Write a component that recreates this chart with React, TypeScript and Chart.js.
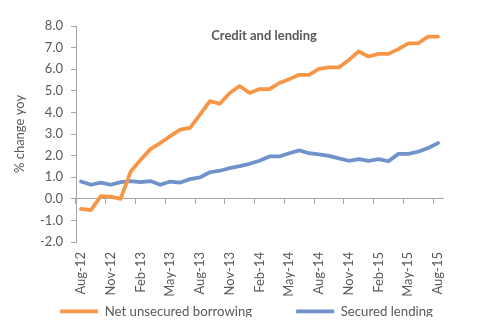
import React, { useEffect, useRef } from 'react';
import { Chart, registerables } from 'chart.js';

Chart.register(...registerables);

const months = [
  'Aug-12', 'Sep-12', 'Oct-12', 'Nov-12', 'Dec-12',
  'Jan-13', 'Feb-13', 'Mar-13', 'Apr-13', 'May-13', 'Jun-13', 'Jul-13', 'Aug-13', 'Sep-13', 'Oct-13', 'Nov-13', 'Dec-13',
  'Jan-14', 'Feb-14', 'Mar-14', 'Apr-14', 'May-14', 'Jun-14', 'Jul-14', 'Aug-14', 'Sep-14', 'Oct-14', 'Nov-14', 'Dec-14',
  'Jan-15', 'Feb-15', 'Mar-15', 'Apr-15', 'May-15', 'Jun-15', 'Jul-15', 'Aug-15',
];

const netUnsecuredBorrowing = [
  -0.47, -0.52, 0.12, 0.1, 0.0,
  1.25, 1.8, 2.3, 2.58, 2.9, 3.2, 3.28, 3.9, 4.52, 4.4, 4.9, 5.22,
  4.9, 5.08, 5.08, 5.36, 5.54, 5.74, 5.74, 6.02, 6.08, 6.08, 6.43, 6.82,
  6.59, 6.71, 6.71, 6.93, 7.2, 7.2, 7.51, 7.51,
];

const securedLending = [
  0.8, 0.65, 0.75, 0.65, 0.77,
  0.82, 0.77, 0.82, 0.65, 0.8, 0.75, 0.91, 0.99, 1.23, 1.3, 1.42, 1.51,
  1.62, 1.76, 1.96, 1.96, 2.11, 2.24, 2.11, 2.06, 1.99, 1.87, 1.76, 1.84,
  1.76, 1.84, 1.74, 2.08, 2.08, 2.18, 2.35, 2.58,
];

const seriesNames = ['Net unsecured borrowing', 'Secured lending'];
const yMin = -2;
const yMax = 8;
const yStep = 1;
const labelEvery = 3;

const ORANGE = '#F79646';
const BLUE = '#6F92CA';
const AXIS = '#A6A6A6';
const TEXT = '#595959';
const FONT = 'Lato, "Liberation Sans", sans-serif';

// Let the rotated category labels draw below their (short) layout box.
const extendXLabelArea = {
  id: 'extendXLabelArea',
  afterLayout(chart: any) {
    const s = chart.scales.x;
    if (s) s.bottom = chart.height;
  },
};

export default function App() {
  const canvasRef = useRef<HTMLCanvasElement | null>(null);

  useEffect(() => {
    const canvas = canvasRef.current;
    if (!canvas) return;
    const chart = new Chart(canvas, {
      type: 'line',
      data: {
        labels: months,
        datasets: [
          {
            label: seriesNames[0],
            data: netUnsecuredBorrowing,
            borderColor: ORANGE,
            backgroundColor: ORANGE,
            borderWidth: 3.75,
            pointRadius: 0,
            tension: 0,
            borderJoinStyle: 'round',
            borderCapStyle: 'round',
            xAxisID: 'x',
            yAxisID: 'y',
          },
          {
            label: seriesNames[1],
            data: securedLending,
            borderColor: BLUE,
            backgroundColor: BLUE,
            borderWidth: 3.75,
            pointRadius: 0,
            tension: 0,
            borderJoinStyle: 'round',
            borderCapStyle: 'round',
            xAxisID: 'x',
            yAxisID: 'y',
          },
        ],
      },
      plugins: [extendXLabelArea],
      options: {
        animation: false,
        responsive: false,
        maintainAspectRatio: false,
        layout: { padding: { left: 0, right: 0, top: 26, bottom: -3 } },
        plugins: {
          title: { display: false },
          tooltip: { enabled: false },
          legend: {
            display: true,
            position: 'bottom',
            labels: {
              usePointStyle: true,
              pointStyle: 'line',
              pointStyleWidth: 38,
              padding: 44,
              color: TEXT,
              font: { family: FONT, size: 13.2 },
            },
          },
        },
        scales: {
          x: {
            type: 'category',
            position: 'bottom',
            offset: true,
            grid: { display: false, drawTicks: false },
            border: { display: false },
            ticks: {
              autoSkip: false,
              maxRotation: 90,
              minRotation: 90,
              padding: 10,
              color: TEXT,
              font: { family: FONT, size: 13 },
              callback: (_v: any, i: number) => (i % labelEvery === 0 ? months[i] : null),
            },
            afterFit: (s: any) => { s.height = 18.8; },
          },
          xz: {
            type: 'category',
            position: { y: 0 },
            offset: true,
            grid: {
              offset: true,
              drawOnChartArea: false,
              drawTicks: true,
              tickLength: 5,
              tickWidth: 1,
              tickColor: (ctx: any) => (ctx.index % labelEvery === 0 ? AXIS : 'rgba(0,0,0,0)'),
            },
            border: { display: true, color: AXIS, width: 1 },
            ticks: { display: false, autoSkip: false },
          },
          y: {
            type: 'linear',
            position: 'left',
            min: yMin,
            max: yMax,
            grid: {
              drawOnChartArea: false,
              drawTicks: true,
              tickLength: 5,
              color: AXIS,
            },
            border: { display: true, color: AXIS, width: 1 },
            ticks: {
              stepSize: yStep,
              autoSkip: false,
              padding: 8,
              color: TEXT,
              font: { family: FONT, size: 13 },
              callback: (v: any) => Number(v).toFixed(1),
            },
            title: {
              display: true,
              text: '% change yoy',
              color: TEXT,
              font: { family: FONT, size: 13 },
              padding: { top: 12, bottom: 4 },
            },
            afterFit: (s: any) => { s.width = 76; },
          },
          yRightSpace: {
            type: 'linear',
            position: 'right',
            display: true,
            grid: { display: false, drawTicks: false },
            border: { display: false },
            ticks: { display: false },
            afterFit: (s: any) => { s.width = 50; },
          },
        },
      },
    } as any);
    return () => chart.destroy();
  }, []);

  return (
    <div style={{ position: 'relative', width: 493, height: 325, margin: -8 }}>
      <canvas ref={canvasRef} width={493} height={325} style={{ display: 'block', width: 493, height: 325 }} />
      <div
        style={{
          position: 'absolute',
          left: 164,
          width: 200,
          top: 27,
          textAlign: 'center',
          fontFamily: FONT,
          fontWeight: 'bold',
          fontSize: 13,
          lineHeight: '16px',
          color: TEXT,
          pointerEvents: 'none',
        }}
      >
        Credit and lending
      </div>
    </div>
  );
}
